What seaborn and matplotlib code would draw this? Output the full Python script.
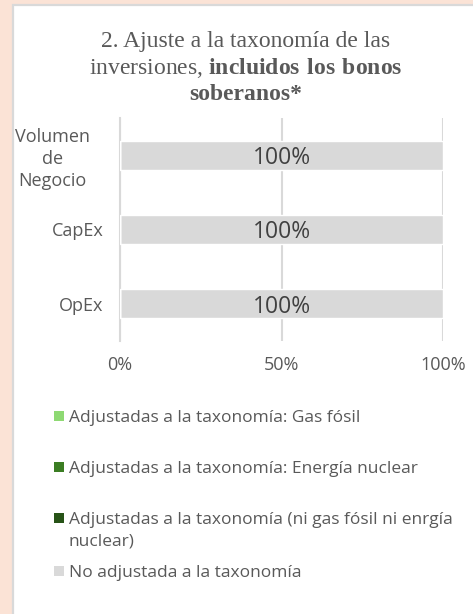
import matplotlib
matplotlib.use("Agg")
import matplotlib.pyplot as plt
import matplotlib.transforms as mtransforms
from matplotlib.patches import Rectangle
import seaborn as sns

# datos
categorias = ["Volumen\nde\nNegocio", "CapEx", "OpEx"]
series = [
    "Adjustadas a la taxonomía: Gas fósil",
    "Adjustadas a la taxonomía: Energía nuclear",
    "Adjustadas a la taxonomía (ni gas fósil ni enrgía\nnuclear)",
    "No adjustada a la taxonomía",
]
gas_fosil = [0, 0, 0]
energia_nuclear = [0, 0, 0]
otras_ajustadas = [0, 0, 0]
no_ajustada = [100, 100, 100]
colores = ["#8ED973", "#3B7D23", "#275317", "#D9D9D9"]
ticks_x = [0, 50, 100]

valores = [gas_fosil, energia_nuclear, otras_ajustadas, no_ajustada]

W, H = 473, 614
def fx(x):
    return x / W
def fy(y):
    return 1 - y / H

sns.set_style("white")
plt.rcParams["font.family"] = ["Open Sans", "DejaVu Sans"]
plt.rcParams["mathtext.fontset"] = "custom"
plt.rcParams["mathtext.rm"] = "Liberation Serif"
plt.rcParams["mathtext.bf"] = "Liberation Serif:bold"

fig = plt.figure(figsize=(W / 100, H / 100), dpi=100, facecolor="#FBE3D6")
fig.patches.append(Rectangle((fx(13), fy(640)), fx(480) - fx(13), fy(5) - fy(640),
                             transform=fig.transFigure, facecolor="white",
                             edgecolor="#D9D9D9", linewidth=1.6, zorder=-5))

ax = fig.add_axes([fx(120), fy(341), fx(443) - fx(120), fy(118) - fy(341)])
ax.set_facecolor("none")
ax.set_zorder(1)

# barras apiladas: se dibuja el acumulado de mayor a menor
acumulado = []
suma = [0, 0, 0]
for vals in valores:
    suma = [s + v for s, v in zip(suma, vals)]
    acumulado.append(suma)

for i in range(len(valores) - 1, -1, -1):
    sns.barplot(x=acumulado[i], y=categorias, color=colores[i], orient="h",
                width=0.39, saturation=1, ax=ax, zorder=3)

for i, vals in enumerate(valores):
    for j, v in enumerate(vals):
        if v > 0:
            inicio = acumulado[i][j] - v
            ax.text(inicio + v / 2, j, f"{v}%", ha="center", va="center_baseline",
                    fontsize=16.5, color="#404040", zorder=4)

ax.set_xlim(0, 100)
ax.set_xticks(ticks_x)
ax.set_xticklabels([f"{t}%" for t in ticks_x])
ax.xaxis.grid(True, color="#D9D9D9", linewidth=1.5, zorder=0)
ax.set_axisbelow(True)
ax.set_xlabel("")
ax.set_ylabel("")
for s in ["top", "right", "bottom"]:
    ax.spines[s].set_visible(False)
ax.spines["left"].set_color("#D9D9D9")
ax.spines["left"].set_linewidth(1.5)

ax.tick_params(axis="x", length=0, pad=11, labelsize=13, labelcolor="#595959")
ax.tick_params(axis="y", which="major", length=0, pad=12, labelsize=13, labelcolor="#595959")
ax.set_yticks([-0.5, 0.5, 1.5, 2.5], minor=True)
ax.tick_params(axis="y", which="minor", length=4, width=1.5, color="#D9D9D9")
for k, lab in enumerate(ax.get_yticklabels()):
    lab.set_multialignment("center")
    lab.set_linespacing(1.3)
    if k == 0:
        lab.set_transform(lab.get_transform() +
                          mtransforms.ScaledTranslation(-13 / 100, 0, fig.dpi_scale_trans))

# titulo
tcolor = "#595959"
fig.text(fx(246), fy(41), "2. Ajuste a la taxonomía de las", ha="center", va="center",
         fontsize=17, color=tcolor, family="Liberation Serif")
fig.text(fx(246), fy(68), r"inversiones, $\mathbf{incluidos\ los\ bonos}$", ha="center",
         va="center", fontsize=17, color=tcolor, family="Liberation Serif")
fig.text(fx(246), fy(95), "soberanos*", ha="center", va="center", fontsize=17,
         color=tcolor, family="Liberation Serif", fontweight="bold")

# leyenda
pos_leyenda = [416, 467, 518, 571]
for nombre, c, y in zip(series, colores, pos_leyenda):
    fig.patches.append(Rectangle((fx(54), fy(y + 5)), 10 / W, 10 / H,
                                 transform=fig.transFigure, facecolor=c,
                                 edgecolor="none", zorder=2))
    fig.text(fx(69), fy(y - 6), nombre, ha="left", va="top", fontsize=12.5,
             color="#595959", linespacing=1.5)

fig.savefig("out.png", dpi=100, facecolor=fig.get_facecolor())
